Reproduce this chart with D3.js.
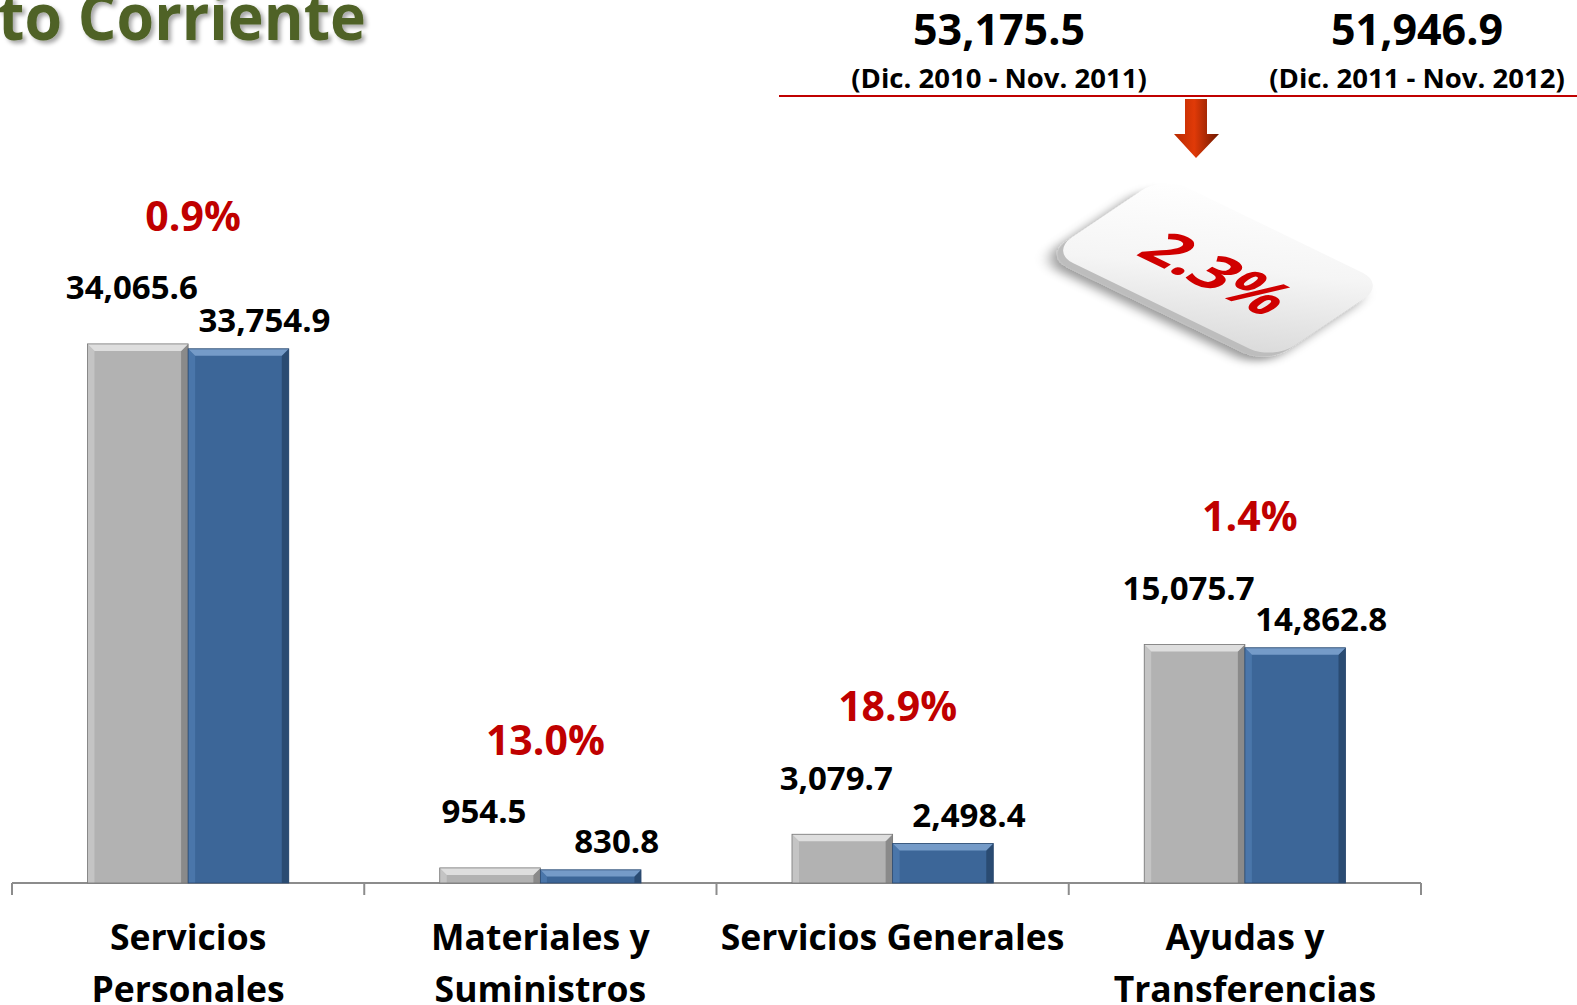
<!DOCTYPE html>
<html>
<head>
<meta charset="utf-8">
<script src="https://cdn.jsdelivr.net/npm/d3@7"></script>
<style>
  html, body { margin: 0; padding: 0; background: #fff; overflow: hidden; }
  svg { display: block; font-family: "Open Sans", "Noto Sans", sans-serif; font-weight: 700; }
</style>
</head>
<body>
<div id="chart"></div>
<script>
// =======================
// Data
// =======================
const categories = [["Servicios", "Personales"], ["Materiales y", "Suministros"], ["Servicios Generales"], ["Ayudas y", "Transferencias"]];
const series = ["Dic. 2010 - Nov. 2011", "Dic. 2011 - Nov. 2012"];
const values2011 = [34065.6, 954.5, 3079.7, 15075.7];
const values2012 = [33754.9, 830.8, 2498.4, 14862.8];
const changeLabels = ["0.9%", "13.0%", "18.9%", "1.4%"];
const totals = [53175.5, 51946.9];
const totalChange = "2.3%";
const title = "to Corriente";

// =======================
// SVG
// =======================
const width = 1577;
const height = 1005;

const svg = d3.select("#chart")
    .append("svg")
    .attr("width", width)
    .attr("height", height);

const defs = svg.append("defs");

const shadow = defs.append("filter").attr("id", "titleShadow")
    .attr("x", "-10%").attr("y", "-10%").attr("width", "130%").attr("height", "140%");
shadow.append("feDropShadow")
    .attr("dx", 3).attr("dy", 3).attr("stdDeviation", 2)
    .attr("flood-color", "#000").attr("flood-opacity", 0.35);

const tileShadow = defs.append("filter").attr("id", "tileShadow")
    .attr("x", "-20%").attr("y", "-20%").attr("width", "140%").attr("height", "160%");
tileShadow.append("feDropShadow")
    .attr("dx", 0).attr("dy", 8).attr("stdDeviation", 6)
    .attr("flood-color", "#000").attr("flood-opacity", 0.4);

const tileGrad = defs.append("linearGradient").attr("id", "tileGrad")
    .attr("x1", "0").attr("y1", "0").attr("x2", "1").attr("y2", "1");
tileGrad.append("stop").attr("offset", "0%").attr("stop-color", "#ffffff");
tileGrad.append("stop").attr("offset", "50%").attr("stop-color", "#f5f5f5");
tileGrad.append("stop").attr("offset", "100%").attr("stop-color", "#d9d9d9");

const arrowGrad = defs.append("linearGradient").attr("id", "arrowGrad")
    .attr("x1", "0").attr("y1", "0").attr("x2", "1").attr("y2", "0");
arrowGrad.append("stop").attr("offset", "0%").attr("stop-color", "#b82a00");
arrowGrad.append("stop").attr("offset", "45%").attr("stop-color", "#e03a08");
arrowGrad.append("stop").attr("offset", "100%").attr("stop-color", "#6e1800");

// =======================
// Scales
// =======================
const x0 = d3.scaleBand()
    .domain(d3.range(categories.length))
    .range([12, 1421])
    .paddingInner(0)
    .paddingOuter(0);

const x1 = d3.scaleBand()
    .domain(series)
    .range([0, x0.bandwidth()])
    .paddingInner(0)
    .paddingOuter(0.75);

const y = d3.scaleLinear()
    .domain([0, 40000])
    .range([883, 250]);

const fmt = d3.format(",.1f");

// =======================
// Title
// =======================
svg.append("text")
    .attr("x", -2)
    .attr("y", 40)
    .attr("textLength", 368)
    .attr("lengthAdjust", "spacingAndGlyphs")
    .attr("fill", "#4f6228")
    .attr("font-size", 64)
    .attr("filter", "url(#titleShadow)")
    .text(title);

// =======================
// Header totals
// =======================
const headerX = [999, 1417];
totals.forEach((t, i) => {
    svg.append("text")
        .attr("x", headerX[i])
        .attr("y", 45)
        .attr("text-anchor", "middle")
        .attr("font-size", 43)
        .attr("fill", "#000")
        .text(fmt(t));
    svg.append("text")
        .attr("x", headerX[i])
        .attr("y", 88)
        .attr("text-anchor", "middle")
        .attr("font-size", 27.5)
        .attr("fill", "#000")
        .text(`(${series[i]})`);
});

svg.append("line")
    .attr("x1", 779).attr("x2", width)
    .attr("y1", 96).attr("y2", 96)
    .attr("stroke", "#c00000")
    .attr("stroke-width", 2);

// Arrow
svg.append("path")
    .attr("d", "M1185,99 L1207,99 L1207,134 L1219,134 L1196,158 L1174,134 L1185,134 Z")
    .attr("fill", "url(#arrowGrad)");

// Tile (parallelogram in perspective)
const tTop = [1163, 176], tRight = [1386, 284], tLeft = [1050, 252];
const ux = tRight[0] - tTop[0], uy = tRight[1] - tTop[1];
const vx = tLeft[0] - tTop[0], vy = tLeft[1] - tTop[1];
const uLen = Math.hypot(ux, uy), vLen = Math.hypot(vx, vy);
const tileM = `matrix(${ux / uLen},${uy / uLen},${vx / vLen},${vy / vLen},${tTop[0]},${tTop[1]})`;

const tile = svg.append("g").attr("transform", tileM);
tile.append("rect")
    .attr("x", 0).attr("y", 7)
    .attr("width", uLen).attr("height", vLen)
    .attr("rx", 26)
    .attr("fill", "#bdbdbd")
    .attr("filter", "url(#tileShadow)");
tile.append("rect")
    .attr("x", 0).attr("y", 0)
    .attr("width", uLen).attr("height", vLen)
    .attr("rx", 26)
    .attr("fill", "url(#tileGrad)");
tile.append("text")
    .attr("x", uLen / 2 + 5)
    .attr("y", vLen / 2 + 4)
    .attr("text-anchor", "middle")
    .attr("dominant-baseline", "central")
    .attr("font-size", 62)
    .attr("fill", "#d00000")
    .text(totalChange);

// =======================
// Axis
// =======================
const axisY = y(0);
svg.append("line")
    .attr("x1", x0.range()[0]).attr("x2", x0.range()[1])
    .attr("y1", axisY).attr("y2", axisY)
    .attr("stroke", "#8c8c8c")
    .attr("stroke-width", 2);

const tickXs = categories.map((c, i) => x0(i)).concat([x0.range()[1]]);
svg.append("g")
    .selectAll("line")
    .data(tickXs)
    .join("line")
    .attr("x1", d => d).attr("x2", d => d)
    .attr("y1", axisY).attr("y2", axisY + 12)
    .attr("stroke", "#8c8c8c")
    .attr("stroke-width", 2);

// =======================
// Bars with bevel
// =======================
const palettes = [
    { base: "#b2b2b2", top: "#dedede", left: "#c4c4c4", right: "#8a8a8a", stroke: "#777" },
    { base: "#3c6698", top: "#759bc8", left: "#4a76aa", right: "#2a4b72", stroke: "#2c4a70" }
];

const barData = [];
categories.forEach((c, i) => {
    [values2011[i], values2012[i]].forEach((v, s) => {
        barData.push({ cat: i, s, v });
    });
});

const barG = svg.append("g");
barData.forEach(d => {
    const bx = x0(d.cat) + x1(series[d.s]);
    const bw = x1.bandwidth();
    const by = y(d.v);
    const bh = y(0) - y(d.v);
    const b = Math.min(7, bh / 2);
    const p = palettes[d.s];
    const g = barG.append("g");
    g.append("rect")
        .attr("x", bx).attr("y", by)
        .attr("width", bw).attr("height", bh)
        .attr("fill", p.base);
    g.append("path")
        .attr("d", `M${bx},${by} L${bx + b},${by + b} L${bx + b},${by + bh} L${bx},${by + bh} Z`)
        .attr("fill", p.left);
    g.append("path")
        .attr("d", `M${bx + bw},${by} L${bx + bw - b},${by + b} L${bx + bw - b},${by + bh} L${bx + bw},${by + bh} Z`)
        .attr("fill", p.right);
    g.append("path")
        .attr("d", `M${bx},${by} L${bx + bw},${by} L${bx + bw - b},${by + b} L${bx + b},${by + b} Z`)
        .attr("fill", p.top);
    g.append("rect")
        .attr("x", bx).attr("y", by)
        .attr("width", bw).attr("height", bh)
        .attr("fill", "none")
        .attr("stroke", p.stroke)
        .attr("stroke-width", 0.8);

    // value label
    const dx = d.s === 0 ? -6 : 26;
    const dy = d.s === 0 ? -57 : -29;
    svg.append("text")
        .attr("x", bx + bw / 2 + dx)
        .attr("y", by + dy)
        .attr("text-anchor", "middle")
        .attr("dominant-baseline", "central")
        .attr("font-size", 33)
        .attr("fill", "#000")
        .text(fmt(d.v));
});

// Percent change labels
svg.append("g")
    .selectAll("text")
    .data(changeLabels)
    .join("text")
    .attr("x", (d, i) => x0(i) + x0.bandwidth() / 2 + 5)
    .attr("y", (d, i) => y(values2011[i]) - 129)
    .attr("text-anchor", "middle")
    .attr("dominant-baseline", "central")
    .attr("font-size", 41)
    .attr("fill", "#c00000")
    .text(d => d);

// Category labels
const catG = svg.append("g");
categories.forEach((lines, i) => {
    lines.forEach((line, j) => {
        catG.append("text")
            .attr("x", x0(i) + x0.bandwidth() / 2)
            .attr("y", 950 + j * 52)
            .attr("text-anchor", "middle")
            .attr("font-size", 35.5)
            .attr("fill", "#000")
            .text(line);
    });
});
</script>
</body>
</html>
